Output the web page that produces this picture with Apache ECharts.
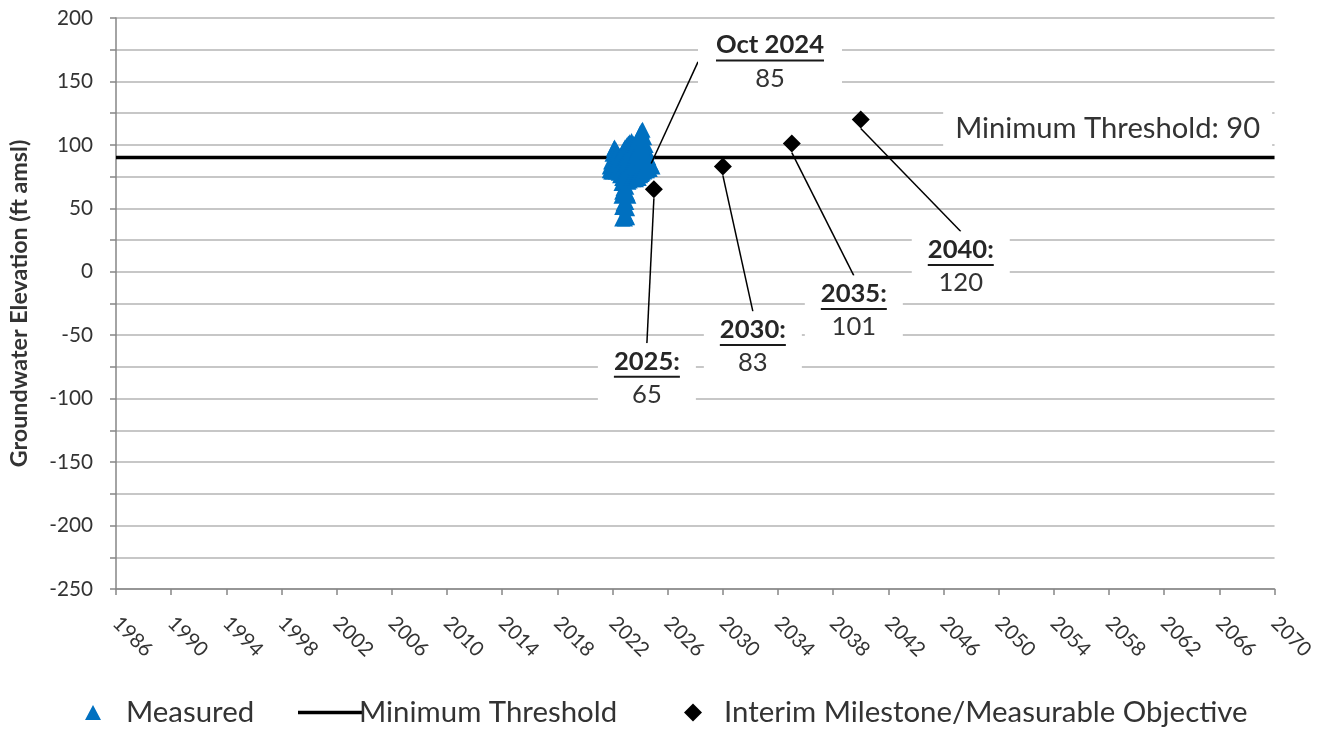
<!DOCTYPE html>
<html><head><meta charset="utf-8">
<script src="https://cdn.jsdelivr.net/npm/echarts@6/dist/echarts.min.js"></script>
<style>html,body{margin:0;padding:0;background:#fff}#c{width:1317px;height:729px}</style>
</head><body><div id="c"></div>
<script>
// ---------------- data ----------------
const AXIS_START_YEAR = 1986;
const AXIS_END_YEAR = 2070;
const YEAR_TICK_STEP = 4;

const measuredYears = [
  2021.8, 2021.8,
  2021.9, 2021.9,
  2022.0, 2022.0, 2022.0,
  2022.1, 2022.1, 2022.1,
  2022.15, 2022.15,
  2022.25, 2022.25, 2022.25,
  2022.35, 2022.35, 2022.35,
  2022.45, 2022.45, 2022.45,
  2022.55, 2022.55, 2022.55,
  2022.65, 2022.65, 2022.65, 2022.65,
  2022.7, 2022.7, 2022.7, 2022.7, 2022.7, 2022.7,
  2022.8, 2022.8, 2022.8, 2022.8, 2022.8, 2022.8,
  2022.9, 2022.9, 2022.9, 2022.9, 2022.9, 2022.9,
  2023.0, 2023.0, 2023.0, 2023.0, 2023.0, 2023.0,
  2023.06, 2023.06, 2023.06, 2023.06, 2023.06, 2023.06,
  2023.15, 2023.15, 2023.15, 2023.15, 2023.15,
  2023.25, 2023.25, 2023.25, 2023.25,
  2023.38, 2023.38, 2023.38, 2023.38,
  2023.5, 2023.5, 2023.5, 2023.5,
  2023.6, 2023.6, 2023.6,
  2023.7, 2023.7, 2023.7, 2023.7,
  2023.8, 2023.8, 2023.8, 2023.8,
  2023.9, 2023.9, 2023.9, 2023.9,
  2024.0, 2024.0, 2024.0, 2024.0,
  2024.1, 2024.1, 2024.1, 2024.1,
  2024.18, 2024.18, 2024.18, 2024.18,
  2024.3, 2024.3, 2024.3, 2024.3,
  2024.4, 2024.4, 2024.4,
  2024.5, 2024.5, 2024.5,
  2024.6, 2024.6,
  2024.7, 2024.7,
  2024.79,
  2024.9
];
const measuredValues = [
  80, 83,
  79, 87,
  79, 86, 93,
  80, 89, 97,
  98, 84,
  79, 88, 96,
  80, 87, 94,
  78, 85, 92,
  76, 84, 91,
  60, 70, 81, 92,
  42, 51, 63, 74, 85, 94,
  43, 54, 66, 77, 88, 96,
  42, 52, 61, 72, 84, 98,
  44, 55, 67, 79, 90, 99,
  43, 50, 62, 73, 86, 100,
  60, 71, 83, 92, 101,
  72, 82, 93, 102,
  74, 85, 95, 103,
  73, 84, 92, 101,
  74, 86, 100,
  73, 83, 92, 100,
  75, 86, 95, 103,
  74, 85, 96, 106,
  76, 88, 99, 109,
  77, 89, 100, 111,
  78, 90, 101, 112,
  79, 89, 98, 106,
  80, 90, 100,
  80, 88, 95,
  81, 90,
  81, 86,
  85,
  83
];

const thresholdValue = 90;
const thresholdLabel = 'Minimum Threshold: 90';

const milestoneYears  = [2025, 2030, 2035, 2040];
const milestoneValues = [65, 83, 101, 120];
const milestoneTitles = ['2025:', '2030:', '2035:', '2040:'];

const latestTitle = 'Oct 2024';
const latestYear  = 2024.79;
const latestValue = 85;

const yTickValues = [200, 150, 100, 50, 0, -50, -100, -150, -200, -250];

// ---------------- layout / style ----------------
const FACE = 'Lato';
const FONT = '"Lato", "Open Sans", sans-serif';
const milestoneLabelShift = [[-7, 189], [30, 180], [62, 167], [100, 147]];
const latestLabelShift = [119, -102];
const thresholdLabelAnchor = [2057.9, 113];

const toAxis = y => y - AXIS_START_YEAR;

const ctx = document.createElement('canvas').getContext('2d');
function textWidth(t, size, weight) {
  ctx.font = (weight || 'normal') + ' ' + size + 'px "' + FACE + '"';
  return ctx.measureText(t).width;
}
// font size that makes a text as wide as it is in the reference
function fitSize(t, targetWidth, weight) {
  return Math.round(100 * targetWidth / textWidth(t, 100, weight) * 10) / 10;
}

const sizeLegend = fitSize('Interim Milestone/Measurable Objective', 524);
const sizeLabel = fitSize('Oct 2024', 108, 'bold');
const sizeThreshold = fitSize(thresholdLabel, 305);
const sizeYTick = fitSize('100', 36);
const sizeXTick = fitSize('2022', 47);
const sizeYName = fitSize('Groundwater Elevation (ft amsl)', 327, 'bold');

function buildRich(titles) {
  const rich = {
    t: { fontFamily: FONT, fontSize: sizeLabel, fontWeight: 'bold', color: '#262626', lineHeight: 28, align: 'center' },
    v: { fontFamily: FONT, fontSize: sizeLabel, color: '#333', lineHeight: 33, align: 'center' }
  };
  titles.forEach((t, i) => {
    rich['u' + i] = { width: Math.ceil(textWidth(t, sizeLabel, 'bold')), height: 2, lineHeight: 3, backgroundColor: '#1a1a1a', align: 'center' };
  });
  return rich;
}

const chart = echarts.init(document.getElementById('c'));

const measuredData = measuredYears.map((y, i) => [toAxis(y), measuredValues[i]]);
const milestoneData = milestoneYears.map((y, i) => [toAxis(y), milestoneValues[i]]);

const legendText = { fontFamily: FONT, fontSize: sizeLegend, color: '#333' };

const option = {
  animation: false,
  backgroundColor: '#fff',
  grid: { left: 115, right: 40, top: 18, bottom: 140, containLabel: false },
  xAxis: {
    type: 'value',
    min: 0,
    max: AXIS_END_YEAR - AXIS_START_YEAR,
    interval: YEAR_TICK_STEP,
    axisLine: { show: true, onZero: false, lineStyle: { color: '#868686', width: 1.5 } },
    axisTick: { show: true, length: 6, lineStyle: { color: '#868686', width: 1.5 } },
    splitLine: { show: false },
    axisLabel: {
      rotate: -45, fontFamily: FONT, fontSize: sizeXTick, color: '#333', margin: 31,
      formatter: v => String(v + AXIS_START_YEAR)
    }
  },
  yAxis: {
    type: 'value',
    min: -250, max: 200, interval: 25,
    name: 'Groundwater Elevation (ft amsl)',
    nameLocation: 'middle',
    nameGap: 85,
    nameTextStyle: { fontFamily: FONT, fontSize: sizeYName, fontWeight: 'bold', color: '#333' },
    axisLine: { show: true, lineStyle: { color: '#868686', width: 1.5 } },
    axisTick: { show: true, length: 6, lineStyle: { color: '#868686', width: 1.5 } },
    splitLine: { show: true, lineStyle: { color: '#b4b4b4', width: 1.5 } },
    axisLabel: {
      fontFamily: FONT, fontSize: sizeYTick, color: '#333', margin: 23,
      formatter: v => (yTickValues.indexOf(v) >= 0 ? String(v) : '')
    }
  },
  legend: [
    { data: [{ name: 'Measured', icon: 'triangle' }], left: 80, top: 693, itemWidth: 16, itemHeight: 15,
      textStyle: Object.assign({}, legendText, { padding: [0, 0, 0, 20] }) },
    { data: [{ name: 'Minimum Threshold', icon: 'rect' }], left: 293, top: 693, itemWidth: 64, itemHeight: 3.5,
      textStyle: Object.assign({}, legendText, { padding: [0, 0, 0, -8] }) },
    { data: [{ name: 'Interim Milestone/Measurable Objective', icon: 'diamond' }], left: 679, top: 693, itemWidth: 18, itemHeight: 18,
      textStyle: Object.assign({}, legendText, { padding: [0, 0, 0, 17] }) }
  ],
  series: [
    {
      name: 'Minimum Threshold',
      type: 'line',
      data: [[0, thresholdValue], [AXIS_END_YEAR - AXIS_START_YEAR, thresholdValue]],
      symbol: 'none',
      lineStyle: { color: '#000', width: 3.5 },
      itemStyle: { color: '#000' },
      z: 3
    },
    {
      name: 'threshold-label',
      type: 'scatter',
      data: [[toAxis(thresholdLabelAnchor[0]), thresholdLabelAnchor[1]]],
      symbolSize: 0,
      silent: true,
      itemStyle: { opacity: 1 },
      label: {
        show: true, position: 'inside', formatter: thresholdLabel,
        fontFamily: FONT, fontSize: sizeThreshold, color: '#333',
        backgroundColor: '#fff', padding: [6, 12, 6, 12]
      },
      z: 4
    },
    {
      name: 'Measured',
      type: 'scatter',
      data: measuredData,
      symbol: 'triangle',
      symbolSize: 16,
      itemStyle: { color: '#0070c0', opacity: 1 },
      z: 5
    },
    {
      name: 'Interim Milestone/Measurable Objective',
      type: 'scatter',
      data: milestoneData,
      symbol: 'diamond',
      symbolSize: 18,
      itemStyle: { color: '#000', opacity: 1 },
      label: {
        show: true, position: 'inside',
        formatter: p => '{t|' + milestoneTitles[p.dataIndex] + '}\n{u' + p.dataIndex + '|}\n{v|' + milestoneValues[p.dataIndex] + '}',
        rich: buildRich(milestoneTitles),
        backgroundColor: '#fff', padding: [4, 16, 2, 16]
      },
      labelLayout: p => ({ dx: milestoneLabelShift[p.dataIndex][0], dy: milestoneLabelShift[p.dataIndex][1] }),
      labelLine: { show: true, lineStyle: { color: '#000', width: 1.5 } },
      z: 6
    },
    {
      name: 'latest',
      type: 'scatter',
      data: [[toAxis(latestYear), latestValue]],
      symbolSize: 1,
      itemStyle: { color: 'rgba(0,0,0,0)', opacity: 1 },
      label: {
        show: true, position: 'inside',
        formatter: '{t|' + latestTitle + '}\n{u0|}\n{v|' + latestValue + '}',
        rich: buildRich([latestTitle]),
        backgroundColor: '#fff', padding: [4, 18, 2, 18]
      },
      labelLayout: () => ({ dx: latestLabelShift[0], dy: latestLabelShift[1] }),
      labelLine: { show: true, lineStyle: { color: '#000', width: 1.5 } },
      z: 6
    }
  ]
};
chart.setOption(option);
</script>
</body></html>
